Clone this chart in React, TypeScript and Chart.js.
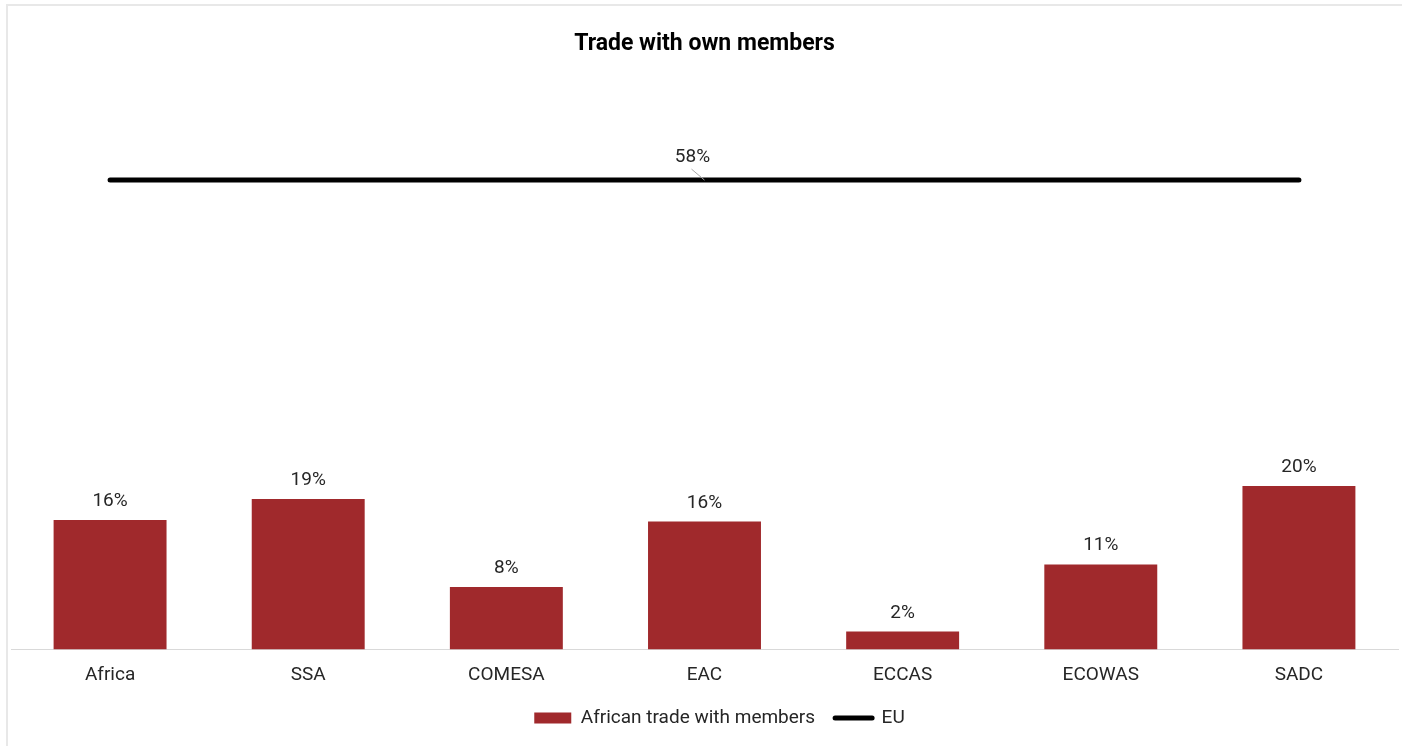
import React, { useEffect, useRef } from "react";
import { Chart, registerables } from "chart.js";

Chart.register(...registerables);

const categories = ["Africa", "SSA", "COMESA", "EAC", "ECCAS", "ECOWAS", "SADC"];
const africanTrade = [16.0, 18.6, 7.7, 15.8, 2.2, 10.5, 20.2];
const euTrade = [58, 58, 58, 58, 58, 58, 58];
const euLabelIndex = 3;

const FONT = "Roboto, 'Noto Sans', sans-serif";
const BAR_COLOR = "#a0292c";
const TEXT_COLOR = "#262626";

const labelPlugin = {
  id: "valueLabels",
  afterLayout(chart: any) {
    const lg = chart.legend;
    if (lg) {
      lg.left += 15;
      lg.right += 15;
    }
  },
  afterDatasetsDraw(chart: any) {
    const ctx = chart.ctx;
    ctx.save();
    ctx.font = `19px ${FONT}`;
    ctx.fillStyle = TEXT_COLOR;
    ctx.textAlign = "center";
    ctx.textBaseline = "alphabetic";
    const barMeta = chart.getDatasetMeta(0);
    barMeta.data.forEach((el: any, i: number) => {
      const v = chart.data.datasets[0].data[i] as number;
      ctx.fillText(`${Math.round(v)}%`, el.x, el.y - 14);
    });
    const lineMeta = chart.getDatasetMeta(1);
    const p = lineMeta.data[euLabelIndex];
    if (p) {
      const v = chart.data.datasets[1].data[euLabelIndex] as number;
      ctx.strokeStyle = "#a6a6a6";
      ctx.lineWidth = 1;
      ctx.beginPath();
      ctx.moveTo(p.x - 13, p.y - 11);
      ctx.lineTo(p.x, p.y);
      ctx.stroke();
      ctx.fillText(`${Math.round(v)}%`, p.x - 12, p.y - 18);
    }
    ctx.restore();
  },
};

export default function App() {
  const ref = useRef<HTMLCanvasElement | null>(null);
  useEffect(() => {
    if (!ref.current) return;
    const chart = new Chart(ref.current, {
      type: "bar",
      data: {
        labels: categories,
        datasets: [
          {
            type: "bar",
            label: "African trade with members",
            data: africanTrade,
            backgroundColor: BAR_COLOR,
            barPercentage: 1,
            categoryPercentage: 0.57,
          },
          {
            type: "line",
            label: "EU",
            data: euTrade,
            borderColor: "#000000",
            backgroundColor: "#000000",
            borderWidth: 5,
            borderCapStyle: "round",
            pointRadius: 0,
            pointHoverRadius: 0,
          } as any,
        ],
      },
      options: {
        animation: false,
        responsive: true,
        maintainAspectRatio: false,
        layout: { padding: { left: 11, right: 4, top: 0, bottom: 8.5 } },
        scales: {
          x: {
            grid: { display: false, drawTicks: false },
            border: { display: true, color: "#d9d9d9", width: 1 },
            ticks: {
              color: TEXT_COLOR,
              font: { family: FONT, size: 19 },
              padding: 14,
            },
            afterFit: (scale: any) => {
              scale.height -= 11.7;
            },
          },
          y: {
            display: false,
            min: 0,
            max: 70,
          },
        },
        plugins: {
          title: {
            display: true,
            text: "Trade with own members",
            color: "#000000",
            font: { family: FONT, size: 23, weight: "bold" },
            padding: { top: 30.2, bottom: 25.2 },
          },
          legend: {
            display: true,
            position: "bottom",
            labels: {
              color: TEXT_COLOR,
              font: { family: FONT, size: 19 },
              usePointStyle: true,
              pointStyleWidth: 37,
              boxHeight: 11,
              padding: 20,
              generateLabels: () => [
                {
                  text: "African trade with members",
                  fillStyle: BAR_COLOR,
                  strokeStyle: BAR_COLOR,
                  lineWidth: 0,
                  pointStyle: "rect",
                  datasetIndex: 0,
                  fontColor: TEXT_COLOR,
                } as any,
                {
                  text: "EU",
                  fillStyle: "#000000",
                  strokeStyle: "#000000",
                  lineWidth: 5,
                  lineCap: "round",
                  pointStyle: "line",
                  datasetIndex: 1,
                  fontColor: TEXT_COLOR,
                } as any,
              ],
            },
          },
          tooltip: { enabled: false },
        },
      },
      plugins: [labelPlugin],
    });
    return () => chart.destroy();
  }, []);

  return (
    <>
      <div
        style={{
          position: "fixed",
          left: 6,
          top: 4,
          width: 1400,
          height: 800,
          border: "2px solid #e8e8e8",
          boxSizing: "border-box",
          pointerEvents: "none",
        }}
      />
      <div style={{ position: "fixed", left: 0, top: 0, width: 1402, height: 746 }}>
        <canvas ref={ref} />
      </div>
    </>
  );
}
